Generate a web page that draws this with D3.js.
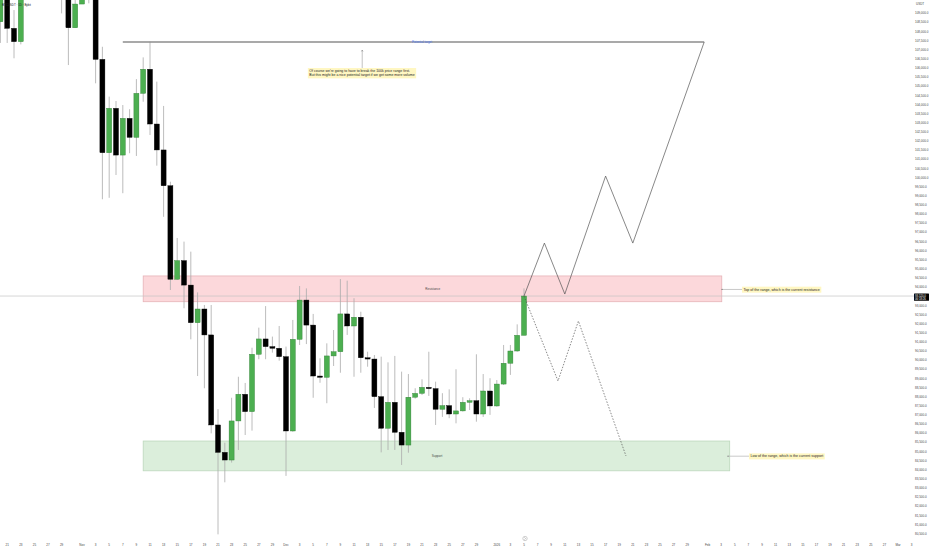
<!DOCTYPE html>
<html>
<head>
<meta charset="utf-8">
<script src="https://cdn.jsdelivr.net/npm/d3@7"></script>
<style>
  body { margin: 0; background: #fff; }
  svg { display: block; font-family: "Liberation Sans", Arial, sans-serif; }
</style>
</head>
<body>
<div id="chart"></div>
<script>
// BTCUSDT daily candles
const days = [
  "2025-10-20","2025-10-21","2025-10-22","2025-10-23","2025-10-24","2025-10-25","2025-10-26","2025-10-27","2025-10-28","2025-10-29","2025-10-30","2025-10-31",
  "2025-11-01","2025-11-02","2025-11-03","2025-11-04","2025-11-05","2025-11-06","2025-11-07","2025-11-08","2025-11-09","2025-11-10",
  "2025-11-11","2025-11-12","2025-11-13","2025-11-14","2025-11-15","2025-11-16","2025-11-17","2025-11-18","2025-11-19","2025-11-20",
  "2025-11-21","2025-11-22","2025-11-23","2025-11-24","2025-11-25","2025-11-26","2025-11-27","2025-11-28","2025-11-29","2025-11-30",
  "2025-12-01","2025-12-02","2025-12-03","2025-12-04","2025-12-05","2025-12-06","2025-12-07","2025-12-08","2025-12-09","2025-12-10",
  "2025-12-11","2025-12-12","2025-12-13","2025-12-14","2025-12-15","2025-12-16","2025-12-17","2025-12-18","2025-12-19","2025-12-20",
  "2025-12-21","2025-12-22","2025-12-23","2025-12-24","2025-12-25","2025-12-26","2025-12-27","2025-12-28","2025-12-29","2025-12-30",
  "2025-12-31","2026-01-01","2026-01-02","2026-01-03","2026-01-04","2026-01-05"
];
const opens = [
  108540,110500,108180,107450,110050,111000,111600,114500,114100,112900,110000,108210,
  109510,110100,110600,106480,101370,103800,101240,103250,102210,104620,
  105940,102940,101520,99560,94440,95460,94120,92060,92810,91390,
  86460,84960,84540,86680,88140,87190,90330,91170,90750,90660,
  90200,86130,91150,93300,91930,89140,89070,90240,90470,92540,
  91880,92360,90140,90070,88010,86280,87700,86060,85360,87980,
  88190,88520,88450,87320,87520,87060,87230,87700,87790,87060,
  88320,87500,88700,89840,90510,91370
];
const highs = [
  111700,114000,109180,111300,112000,111900,115000,116400,116100,113600,111600,110500,
  110600,111200,110800,107170,104440,104200,103980,103750,105400,106590,
  107450,105260,103930,99780,96700,96500,95950,93720,93030,93030,
  87330,85490,87950,89100,88760,90690,91790,92970,91300,91880,
  90750,92210,94070,93940,92540,90110,90930,91660,94450,94360,
  93400,92660,90470,90290,90200,89890,90240,89380,89250,88470,
  88960,90470,88830,88200,88410,89510,87980,87920,90330,89250,
  89020,88920,90840,90840,91970,93940
];
const lows = [
  107380,107380,106540,107300,109950,110700,111300,114000,112200,109000,106170,108210,
  109510,109550,105170,98820,98900,100150,99150,101340,101190,104160,
  102340,100660,97860,93850,94400,92850,91150,89140,88470,86000,
  80470,83320,84400,85090,85910,86150,90060,90060,90420,89980,
  83670,86090,90840,90890,87950,88770,87650,89690,89320,91390,
  89100,89320,89650,87390,84960,85090,85090,84270,84940,87900,
  88100,88050,86460,86900,86830,86550,87190,87280,86640,86900,
  87010,87460,88650,89200,90470,91370
];
const closes = [
  110500,108180,107450,110050,111000,111600,114500,114100,112900,110000,108210,109510,
  110100,110600,106480,101370,103800,101240,103250,102210,104620,105940,
  102940,101520,99560,94440,95460,94120,92060,92810,91390,86460,
  84960,84540,86680,88140,87190,90330,91170,90750,90660,90200,
  86130,91150,93300,91930,89140,89070,90240,90470,92540,91880,
  92360,90140,90070,88010,86280,87700,86060,85360,87980,88190,
  88520,88450,87320,87520,87060,87230,87700,87790,87060,88320,
  87500,88700,89840,90510,91370,93520
];

// drawings on the chart
const resistanceZone = { from: "2025-11-10T00", to: "2026-02-03T02", top: 94620, bottom: 93210 };
const supportZone = { from: "2025-11-10T00", to: "2026-02-04T06", top: 85580, bottom: 83950 };
const targetLevel = { from: "2025-11-07T00", to: "2026-01-31T12", price: 107430 };
const bullPath = [
  ["2026-01-05", 93520], ["2026-01-08", 96420], ["2026-01-11", 93630],
  ["2026-01-17", 100090], ["2026-01-21", 96420], ["2026-01-31T12", 107430]
];
const bearPath = [
  ["2026-01-05", 93520], ["2026-01-10", 88870], ["2026-01-13", 92150], ["2026-01-20", 84760]
];
const noteTarget = [
  "Of course we're going to have to break the 100k price range first.",
  "But this might be a nice potential target if we get some more volume"
];
const noteResistance = "Top of the range, which is the current resistance";
const noteSupport = "Low of the range, which is the current support";

const width = 932, height = 550;
const parse = s => new Date((s.length === 10 ? s + "T00" : s) + ":00:00Z");

const candles = days.map((d, i) => ({
  date: parse(d), open: opens[i], high: highs[i], low: lows[i], close: closes[i]
}));

// scales: 6.8px per day, Nov 1 at x=82
const x = d3.scaleUtc()
  .domain([parse("2025-11-01"), parse("2026-03-01")])
  .range([82, 82 + 120 * 6.8]);
const y = d3.scaleLinear()
  .domain([109000, 80500])
  .range([13.36, 533.8]);

const svg = d3.select("#chart").append("svg")
  .attr("width", width)
  .attr("height", height);

svg.append("rect").attr("width", width).attr("height", height).attr("fill", "#fff");

// zones
function zone(z, fill, stroke) {
  svg.append("rect")
    .attr("x", x(parse(z.from)))
    .attr("y", y(z.top))
    .attr("width", x(parse(z.to)) - x(parse(z.from)))
    .attr("height", y(z.bottom) - y(z.top))
    .attr("fill", fill)
    .attr("stroke", stroke)
    .attr("stroke-width", 0.8);
}
zone(resistanceZone, "#fcd8db", "#e6b3b8");
zone(supportZone, "#dbeedb", "#bcd8bc");

// current price line
const last = candles[candles.length - 1];
svg.append("line")
  .attr("x1", 0).attr("x2", 914)
  .attr("y1", y(last.close)).attr("y2", y(last.close))
  .attr("stroke", "#c4c4c4").attr("stroke-width", 0.7);

// candles
const bodyW = 5;
const g = svg.append("g");
g.selectAll(".wick")
  .data(candles)
  .enter()
  .append("line")
  .attr("class", "wick")
  .attr("x1", d => x(d.date)).attr("x2", d => x(d.date))
  .attr("y1", d => y(d.high)).attr("y2", d => y(d.low))
  .attr("stroke", "#ababab")
  .attr("stroke-width", 0.8);

g.selectAll(".body")
  .data(candles)
  .enter()
  .append("rect")
  .attr("class", "body")
  .attr("x", d => x(d.date) - bodyW / 2)
  .attr("y", d => y(Math.max(d.open, d.close)))
  .attr("width", bodyW)
  .attr("height", d => Math.max(0.8, Math.abs(y(d.open) - y(d.close))))
  .attr("fill", d => d.close >= d.open ? "#4caf50" : "#000")
  .attr("stroke", d => d.close >= d.open ? "#2e7d32" : "#000")
  .attr("stroke-width", 0.4);

// zone labels
svg.append("text")
  .attr("x", x(parse("2025-12-22T14"))).attr("y", y((resistanceZone.top + resistanceZone.bottom) / 2) + 1)
  .attr("text-anchor", "middle").attr("font-size", 3).attr("fill", "#444")
  .text("Resistance");
svg.append("text")
  .attr("x", x(parse("2025-12-23T05"))).attr("y", y((supportZone.top + supportZone.bottom) / 2) + 1)
  .attr("text-anchor", "middle").attr("font-size", 3).attr("fill", "#444")
  .text("Support");

// target line with label
svg.append("line")
  .attr("x1", x(parse(targetLevel.from))).attr("x2", x(parse(targetLevel.to)))
  .attr("y1", y(targetLevel.price)).attr("y2", y(targetLevel.price))
  .attr("stroke", "#8c8c8c").attr("stroke-width", 1.6);
const tl = svg.append("text")
  .attr("x", x(parse("2025-12-21"))).attr("y", y(targetLevel.price) + 1)
  .attr("text-anchor", "middle").attr("font-size", 3).attr("fill", "#4a78f0")
  .text("Potential target");
const tlb = tl.node().getBBox();
svg.insert("rect", "text")
  .attr("x", tlb.x - 1).attr("y", tlb.y).attr("width", tlb.width + 2).attr("height", tlb.height)
  .attr("fill", "#fff");
tl.raise();

// projected paths
const line = d3.line().x(d => x(parse(d[0]))).y(d => y(d[1]));
svg.append("path")
  .attr("d", line(bullPath))
  .attr("fill", "none").attr("stroke", "#555").attr("stroke-width", 0.7);
svg.append("path")
  .attr("d", line(bearPath))
  .attr("fill", "none").attr("stroke", "#555").attr("stroke-width", 0.7)
  .attr("stroke-dasharray", "1.5,1.5");

// note boxes
function noteBox(lines, cx, top, anchor, size) {
  const grp = svg.append("g");
  const t = grp.append("text").attr("font-size", size).attr("fill", "#222");
  lines.forEach((l, i) => {
    t.append("tspan").attr("x", 0).attr("dy", i === 0 ? 0 : size * 1.25).text(l);
  });
  const b = t.node().getBBox();
  grp.insert("rect", "text")
    .attr("x", b.x - 1.5).attr("y", b.y - 1).attr("width", b.width + 3).attr("height", b.height + 2)
    .attr("fill", "#fff7c2");
  const dx = anchor === "middle" ? cx - b.width / 2 : cx + 1.5;
  grp.attr("transform", "translate(" + dx + "," + (top - b.y + 1) + ")");
  return grp;
}

// arrow up to the target
const arrowX = x(parse("2025-12-12T05"));
svg.append("line")
  .attr("x1", arrowX).attr("x2", arrowX)
  .attr("y1", y(106000)).attr("y2", y(106990))
  .attr("stroke", "#999").attr("stroke-width", 0.6);
svg.append("path")
  .attr("d", "M" + (arrowX - 0.8) + "," + (y(106990) + 1.4) + "L" + arrowX + "," + y(106990) + "L" + (arrowX + 0.8) + "," + (y(106990) + 1.4))
  .attr("fill", "none").attr("stroke", "#777").attr("stroke-width", 0.5);
noteBox(noteTarget, 362, 68, "middle", 3.5);

// right side callouts
function callout(text, fromDate, price, boxX) {
  const yy = y(price);
  svg.append("line")
    .attr("x1", x(parse(fromDate))).attr("x2", boxX)
    .attr("y1", yy).attr("y2", yy)
    .attr("stroke", "#bbb").attr("stroke-width", 0.8);
  svg.append("circle")
    .attr("cx", x(parse(fromDate))).attr("cy", yy).attr("r", 0.6).attr("fill", "#777");
  noteBox([text], boxX, yy - 2.8, "start", 3.6);
}
callout(noteResistance, "2026-02-03T03", 93880, 742);
callout(noteSupport, "2026-02-04T00", 84750, 749);

// price axis
const priceTicks = d3.range(80500, 109001, 500).filter(p => p !== 93500);
svg.append("g").selectAll("text")
  .data(priceTicks)
  .enter()
  .append("text")
  .attr("x", 915)
  .attr("y", d => y(d) + 1)
  .attr("font-size", 3)
  .attr("fill", "#444")
  .text(d => d3.format(",.1f")(d));
svg.append("text").attr("x", 916).attr("y", y(109500) + 1)
  .attr("font-size", 3).attr("fill", "#444").text("USDT");

// last price label
const ly = y(last.close);
svg.append("rect").attr("x", 914).attr("y", ly - 2.6).attr("width", 15).attr("height", 7.4).attr("fill", "#000").attr("rx", 0.5);
svg.append("text").attr("x", 915).attr("y", ly + 0.6).attr("font-size", 2.8).attr("fill", "#fff")
  .text(d3.format(",.1f")(last.close));
svg.append("text").attr("x", 915).attr("y", ly + 3.8).attr("font-size", 2.8).attr("fill", "#fff")
  .text("06:18:26");

// time axis
const dayTicks = d3.utcDay.range(parse("2025-10-21"), parse("2026-03-04"))
  .filter(d => d.getUTCDate() % 2 === 1 && d.getUTCDate() !== 31);
const fmt = d => {
  if (d.getUTCDate() !== 1) return d.getUTCDate();
  if (d.getUTCMonth() === 0) return d.getUTCFullYear();
  return d3.utcFormat("%b")(d);
};
svg.append("g").selectAll("text")
  .data(dayTicks)
  .enter()
  .append("text")
  .attr("x", d => x(d))
  .attr("y", 546)
  .attr("text-anchor", "middle")
  .attr("font-size", 3)
  .attr("fill", "#444")
  .text(fmt);

// realtime marker
const mx = x(last.date) + 1;
svg.append("circle").attr("cx", mx).attr("cy", 538.5).attr("r", 2.2)
  .attr("fill", "#fff").attr("stroke", "#888").attr("stroke-width", 0.4);
svg.append("path")
  .attr("d", "M" + (mx - 0.6) + ",537.3L" + (mx + 0.6) + ",538.5L" + (mx - 0.6) + ",539.7")
  .attr("fill", "none").attr("stroke", "#666").attr("stroke-width", 0.4);

// symbol header
svg.append("text").attr("x", 2).attr("y", 6)
  .attr("font-size", 2.9).attr("fill", "#222")
  .text("BTCUSDT · 1D · Bybit");
</script>
</body>
</html>
